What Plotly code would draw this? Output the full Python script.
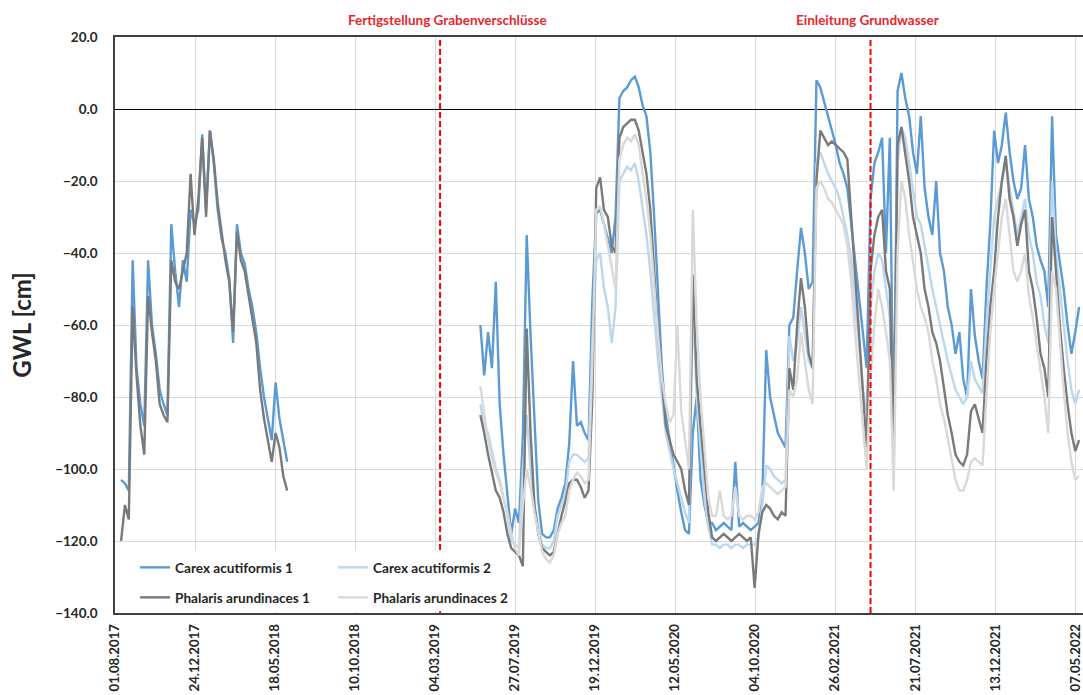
import pandas as pd
import plotly.graph_objects as go

# ---------------- data ----------------
dates_p1 = pd.date_range("2017-08-12", periods=44, freq="7D")
dates_p2 = pd.date_range("2019-05-25", periods=156, freq="7D")

carex1_p1 = [-103, -104, -106, -42, -72, -82, -88, -42, -60, -68,
             -78, -82, -85, -32, -45, -55, -42, -48, -28, -32,
             -28, -7, -28, -6, -15, -28, -36, -40, -47, -65,
             -32, -40, -43, -50, -55, -62, -72, -80, -86, -92,
             -76, -86, -92, -98]
phalaris1_p1 = [-120, -110, -114, -55, -74, -88, -96, -52, -62, -70,
                -82, -85, -87, -42, -48, -50, -45, -40, -18, -35,
                -25, -8, -30, -6, -14, -26, -34, -42, -48, -62,
                -34, -42, -45, -52, -58, -65, -78, -86, -92, -98,
                -90, -94, -102, -106]

carex1_p2 = [-60, -74, -62, -72, -48, -82, -96, -108, -118, -111,
             -115, -91, -35, -63, -87, -109, -118, -119, -119, -117,
             -111, -108, -104, -93, -70, -88, -87, -90, -92, -53,
             -29, -28, -32, -36, -40, -30, 3, 5, 6, 8,
             9, 6, 1, -2, -12, -30, -50, -72, -85, -92,
             -100, -106, -112, -117, -118, -90, -80, -103, -110, -115,
             -115, -117, -116, -115, -116, -117, -98, -116, -115, -116,
             -117, -116, -115, -107, -67, -80, -85, -90, -92, -94,
             -60, -58, -45, -33, -40, -50, -48, 8, 6, 2,
             -2, -6, -10, -15, -18, -22, -32, -42, -52, -62,
             -72, -25, -15, -12, -8, -40, -8, -95, 5, 10,
             3, -2, -12, -18, -2, -22, -30, -35, -20, -40,
             -45, -55, -60, -68, -62, -75, -80, -50, -63, -70,
             -75, -50, -32, -6, -15, -10, -1, -12, -20, -25,
             -22, -10, -25, -30, -38, -42, -45, -55, -2, -35,
             -42, -50, -60, -68, -62, -55]
carex2_p2 = [-82, -88, -90, -95, -100, -103, -108, -113, -120, -121,
             -122, -100, -85, -100, -110, -116, -121, -122, -122, -120,
             -113, -110, -107, -98, -96, -96, -97, -98, -97, -65,
             -42, -40, -50, -55, -65, -55, -20, -18, -16, -17,
             -15, -20, -28, -35, -45, -58, -70, -80, -90, -95,
             -100, -104, -108, -112, -115, -53, -80, -95, -108, -116,
             -121, -121, -122, -121, -121, -122, -121, -121, -122, -121,
             -121, -121, -119, -110, -99, -100, -102, -103, -104, -103,
             -63, -70, -65, -55, -62, -70, -72, -15, -12, -15,
             -18, -20, -22, -25, -30, -35, -42, -55, -65, -78,
             -84, -55, -45, -40, -42, -50, -58, -100, -15, -5,
             -8, -15, -22, -30, -32, -38, -45, -50, -55, -60,
             -65, -70, -74, -78, -80, -82, -80, -70, -75, -77,
             -79, -60, -45, -30, -25, -20, -15, -22, -28, -35,
             -30, -25, -35, -40, -48, -52, -60, -65, -20, -40,
             -50, -60, -70, -78, -82, -78]
phalaris1_p2 = [-85, -90, -96, -101, -106, -108, -112, -118, -122, -123,
                -124, -127, -61, -90, -110, -118, -122, -123, -124, -123,
                -118, -113, -109, -104, -103, -103, -105, -108, -106, -80,
                -22, -19, -28, -30, -38, -40, -8, -5, -4, -3,
                -3, -6, -12, -18, -28, -45, -62, -75, -88, -92,
                -96, -98, -100, -106, -110, -46, -75, -88, -100, -112,
                -119, -120, -119, -118, -119, -120, -119, -118, -119, -120,
                -119, -133, -118, -112, -110, -111, -113, -114, -112, -113,
                -72, -78, -60, -47, -55, -68, -72, -20, -6, -8,
                -10, -9, -10, -11, -12, -14, -30, -48, -62, -78,
                -94, -45, -35, -30, -28, -45, -50, -96, -10, -5,
                -12, -20, -30, -35, -40, -50, -55, -62, -65, -70,
                -78, -85, -90, -96, -98, -99, -96, -84, -82, -86,
                -90, -70, -55, -45, -30, -20, -13, -25, -30, -38,
                -32, -28, -45, -50, -58, -68, -72, -80, -30, -45,
                -60, -72, -82, -90, -95, -92]
phalaris2_p2 = [-77, -85, -92, -97, -101, -104, -108, -112, -118, -122,
                -124, -110, -100, -105, -112, -118, -123, -125, -126, -124,
                -118, -115, -113, -106, -103, -101, -102, -104, -103, -70,
                -28, -27, -32, -38, -44, -50, -14, -10, -8, -9,
                -7, -10, -18, -25, -35, -50, -63, -75, -82, -87,
                -85, -60, -84, -92, -100, -28, -60, -80, -95, -108,
                -113, -113, -106, -113, -114, -113, -105, -113, -114, -113,
                -113, -114, -112, -105, -104, -105, -106, -107, -106, -105,
                -78, -80, -75, -62, -70, -78, -82, -22, -20, -22,
                -25, -26, -28, -30, -32, -38, -48, -62, -75, -88,
                -100, -75, -60, -50, -55, -62, -70, -106, -40, -20,
                -25, -35, -42, -50, -55, -58, -62, -70, -75, -82,
                -86, -92, -98, -103, -106, -106, -103, -98, -97, -98,
                -99, -80, -62, -50, -40, -30, -25, -35, -45, -48,
                -45, -40, -52, -58, -65, -72, -80, -90, -45, -50,
                -65, -78, -90, -98, -103, -102]

series_names = ["Carex acutiformis 1", "Carex acutiformis 2",
                "Phalaris arundinaces 1", "Phalaris arundinaces 2"]
series_colors = ["#5B9BD5", "#BDD7EE", "#7A7A7A", "#D9D9D9"]

event_dates = ["2019-03-13", "2021-05-01"]
event_labels = ["Fertigstellung Grabenverschlüsse", "Einleitung Grundwasser"]

tick_dates = ["2017-08-01", "2017-12-24", "2018-05-18", "2018-10-10",
              "2019-03-04", "2019-07-27", "2019-12-19", "2020-05-12",
              "2020-10-04", "2021-02-26", "2021-07-21", "2021-12-13",
              "2022-05-07"]
tick_labels = ["01.08.2017", "24.12.2017", "18.05.2018", "10.10.2018",
               "04.03.2019", "27.07.2019", "19.12.2019", "12.05.2020",
               "04.10.2020", "26.02.2021", "21.07.2021", "13.12.2021",
               "07.05.2022"]

x_start, x_end = "2017-08-01", "2022-05-21"
y_min, y_max, y_step = -140, 20, 20

# ---------------- figure ----------------
gap_date = pd.Timestamp("2018-12-01")
x_full = list(dates_p1) + [gap_date] + list(dates_p2)

series_y = [
    carex1_p1 + [None] + carex1_p2,
    [None] * len(dates_p1) + [None] + carex2_p2,
    phalaris1_p1 + [None] + phalaris1_p2,
    [None] * len(dates_p1) + [None] + phalaris2_p2,
]
legend_ids = ["legend", "legend", "legend2", "legend2"]

FONT = "Lato"
TXT = "#262626"

fig = go.Figure()
for name, col, ys, lg in zip(series_names, series_colors, series_y, legend_ids):
    fig.add_trace(go.Scatter(x=x_full, y=ys, mode="lines", name=name,
                             line=dict(color=col, width=2.4),
                             connectgaps=False, legend=lg))

shapes = []
for d in event_dates:
    shapes.append(dict(type="line", xref="x", yref="paper", x0=d, x1=d,
                       y0=0, y1=1, line=dict(color="#FF0000", width=2, dash="6px,3px"),
                       layer="above"))
# white legend box background (covers data like the original)
shapes.append(dict(type="rect", xref="paper", yref="paper", x0=0.002, x1=0.403,
                   y0=0.003, y1=0.1076, fillcolor="white", line=dict(width=0),
                   layer="above"))

annotations = []
for d, t, xs in zip(event_dates, event_labels, [7, -3]):
    annotations.append(dict(x=d, xref="x", y=1.0295, yref="paper", text=t,
                            showarrow=False, xshift=xs, yanchor="middle",
                            font=dict(family=FONT, size=13.5, color="#E8262B", weight="bold")))

legend_common = dict(xanchor="left", yanchor="top", orientation="h",
                     bgcolor="rgba(0,0,0,0)", entrywidth=153, entrywidthmode="pixels",
                     font=dict(family=FONT, size=13.6, color=TXT, weight="bold"),
                     tracegroupgap=0, itemwidth=30)

fig.update_layout(
    width=1083, height=695,
    margin=dict(l=115, r=0, t=37, b=82, autoexpand=False),
    paper_bgcolor="white", plot_bgcolor="white",
    font=dict(family=FONT, color=TXT),
    shapes=shapes, annotations=annotations,
    xaxis=dict(type="date", range=[x_start, x_end], automargin=False,
               tickmode="array", tickvals=tick_dates, ticktext=tick_labels,
               tickangle=-90, ticklabeloverflow="allow",
               tickfont=dict(family=FONT, size=13.2, color=TXT, weight="bold"),
               showgrid=True, gridcolor="#D9D9D9", gridwidth=1,
               showline=True, linecolor="#404040", linewidth=1.5, mirror=True,
               ticks="", ticklabelstandoff=4, zeroline=False),
    yaxis=dict(range=[y_min, y_max], dtick=y_step, tick0=0, tickformat=".1f",
               automargin=False,
               tickfont=dict(family=FONT, size=13.5, color=TXT, weight="bold"),
               showgrid=True, gridcolor="#D9D9D9", gridwidth=1,
               zeroline=True, zerolinecolor="#000000", zerolinewidth=1,
               showline=True, linecolor="#404040", linewidth=1.5, mirror=False,
               ticks="", ticklabelstandoff=13,
               title=dict(text="GWL [cm]", standoff=17,
                          font=dict(family=FONT, size=24, color=TXT, weight="bold"))),
    legend=dict(x=0.0207, y=0.1059, **legend_common),
    legend2=dict(x=0.0207, y=0.0538, **legend_common),
    showlegend=True,
)

fig.write_html("out.html")
